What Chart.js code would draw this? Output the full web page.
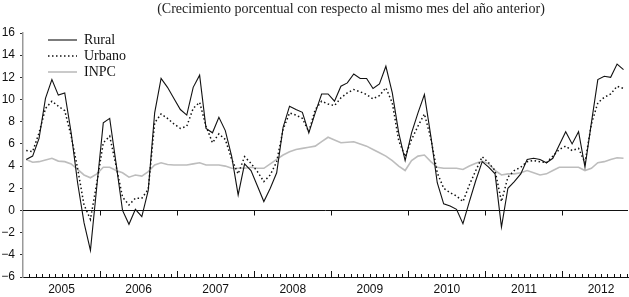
<!DOCTYPE html>
<html lang="es">
<head>
<meta charset="UTF-8" />
<title>Crecimiento porcentual</title>
<script src="https://cdn.jsdelivr.net/npm/chart.js"></script>
<style>
  html, body { margin: 0; padding: 0; background: #fff; }
</style>
</head>
<body>
<canvas id="chart" width="629" height="297"></canvas>
<script>
// Serie mensual, enero 2005 - octubre 2012
const titleText = "(Crecimiento porcentual con respecto al mismo mes del año anterior)";
const years = ["2005", "2006", "2007", "2008", "2009", "2010", "2011", "2012"];
const yTicks = [-6, -4, -2, 0, 2, 4, 6, 8, 10, 12, 14, 16];

const rural = [
  4.6, 4.9, 6.5, 10.1, 11.8, 10.4, 10.6, 7.0, 2.5, -1.1, -3.6, 2.2,
  7.9, 8.3, 4.2, 0.0, -1.25, 0.1, -0.55, 1.8, 8.8, 11.9, 11.1, 10.1,
  9.1, 8.6, 11.1, 12.2, 7.4, 7.0, 8.4, 7.2, 4.85, 1.4, 4.2, 3.6,
  2.2, 0.8, 2.0, 3.4, 7.5, 9.4, 9.1, 8.85, 7.0, 8.8, 10.5, 10.5,
  9.85, 11.2, 11.5, 12.3, 11.9, 11.9, 11.0, 11.4, 13.0, 10.6, 7.0, 4.5,
  7.0, 8.8, 10.45, 6.7, 2.5, 0.6, 0.4, 0.1, -1.2, 0.8, 2.7, 4.4,
  3.9, 3.3, -1.5, 2.0, 2.6, 3.3, 4.6, 4.7, 4.6, 4.3, 4.7, 5.9,
  7.1, 6.0, 7.1, 3.9, 7.9, 11.8, 12.1, 12.0, 13.2, 12.7
];
const urbano = [
  5.4, 5.3, 7.0, 9.2, 9.85, 9.4, 9.0, 6.7, 3.8, 0.5, -0.8, 2.5,
  6.1, 6.7, 4.0, 1.2, 0.5, 1.1, 1.1, 1.9, 7.9, 8.7, 8.3, 7.8,
  7.4, 7.6, 9.2, 9.75, 7.6, 6.1, 6.9, 6.4, 4.6, 3.3, 4.85, 4.25,
  3.5, 2.6, 3.2, 4.4, 7.3, 8.8, 8.6, 8.3, 7.1, 9.1, 9.85, 9.6,
  9.45, 10.15, 10.6, 10.9, 10.7, 10.45, 10.06, 10.36, 11.06, 9.7, 6.3, 4.85,
  6.4, 7.6, 8.7, 6.5, 3.4, 2.0, 1.6, 1.3, 0.8, 2.3, 3.6, 4.85,
  4.3, 3.6, 0.8, 3.0, 3.6, 3.9, 4.4, 4.5, 4.4, 4.3, 4.9, 5.5,
  5.8, 5.4, 5.6, 4.3, 7.8, 9.7, 10.2, 10.5, 11.2, 11.0
];
const inpc = [
  4.6, 4.35, 4.4, 4.55, 4.7, 4.45, 4.4, 4.2, 3.7, 3.2, 2.95, 3.3,
  3.9, 3.9, 3.6, 3.4, 3.0, 3.2, 3.1, 3.5, 4.1, 4.3, 4.15, 4.1,
  4.1, 4.1, 4.2, 4.3, 4.1, 4.1, 4.1, 4.0, 3.8, 3.8, 3.8, 3.9,
  3.8, 3.8, 4.2, 4.6, 5.0, 5.3, 5.5, 5.6, 5.7, 5.8, 6.2, 6.6,
  6.35, 6.1, 6.15, 6.2, 6.0, 5.8, 5.5, 5.2, 4.9, 4.5, 4.0, 3.6,
  4.5, 4.9, 5.0, 4.4, 3.9, 3.8, 3.8, 3.8, 3.7, 4.0, 4.25, 4.45,
  4.2, 3.6, 3.2, 3.3, 3.3, 3.4, 3.6, 3.4, 3.2, 3.3, 3.6, 3.9,
  3.9, 3.9, 3.9, 3.6, 3.8, 4.3, 4.4, 4.6, 4.75, 4.7
];

// cada mes en el centro de su intervalo
const toPoints = arr => arr.map((v, i) => ({ x: i + 0.5, y: v }));
const nMonths = rural.length;

// linea del cero y marcas de meses/años
const axisMarks = {
  id: "axisMarks",
  beforeDatasetsDraw(chart) {
    const { ctx, chartArea, scales } = chart;
    const x = scales.x, y = scales.y;
    const y0 = Math.round(y.getPixelForValue(0)) + 0.5;
    ctx.save();
    ctx.strokeStyle = "#111";
    ctx.lineWidth = 1;
    ctx.beginPath();
    ctx.moveTo(chartArea.left, y0);
    ctx.lineTo(chartArea.right, y0);
    for (let m = 12; m < nMonths; m += 12) {
      const px = Math.round(x.getPixelForValue(m)) + 0.5;
      ctx.moveTo(px, y0);
      ctx.lineTo(px, y0 + 5);
    }
    ctx.stroke();
    ctx.restore();
  },
  afterDraw(chart) {
    const { ctx, chartArea, scales } = chart;
    const x = scales.x;
    const yb = chartArea.bottom;
    ctx.save();
    ctx.strokeStyle = "#111";
    ctx.lineWidth = 1;
    ctx.beginPath();
    for (let m = 1; m <= nMonths; m++) {
      const px = Math.round(x.getPixelForValue(m)) + 0.5;
      ctx.moveTo(px, yb);
      ctx.lineTo(px, yb - (m % 12 === 0 ? 6 : 3));
    }
    ctx.stroke();
    // titulo
    ctx.font = "14px 'Liberation Serif'";
    ctx.fillStyle = "#222";
    ctx.textAlign = "center";
    ctx.textBaseline = "middle";
    ctx.fillText(titleText, 351, 9);
    ctx.restore();
  }
};

// leyenda dentro del area del grafico
const insideLegend = {
  id: "insideLegend",
  afterDraw(chart) {
    const { ctx } = chart;
    ctx.save();
    ctx.font = "14px 'Liberation Serif'";
    ctx.textBaseline = "middle";
    ctx.fillStyle = "#111";
    chart.data.datasets.forEach((ds, k) => {
      const ly = 40 + k * 16;
      ctx.beginPath();
      ctx.strokeStyle = ds.borderColor;
      ctx.lineWidth = ds.borderWidth;
      ctx.setLineDash(ds.borderDash || []);
      ctx.moveTo(48, ly);
      ctx.lineTo(77, ly);
      ctx.stroke();
      ctx.setLineDash([]);
      ctx.fillText(ds.label, 84, ly);
    });
    ctx.restore();
  }
};

new Chart(document.getElementById("chart"), {
  type: "line",
  data: {
    datasets: [
      { label: "Rural", data: toPoints(rural), borderColor: "#111", borderWidth: 1.1 },
      { label: "Urbano", data: toPoints(urbano), borderColor: "#111", borderWidth: 1.5, borderDash: [1.5, 2.5] },
      { label: "INPC", data: toPoints(inpc), borderColor: "#bdbdbd", borderWidth: 1.6 }
    ]
  },
  options: {
    responsive: false,
    animation: false,
    layout: { padding: { left: 0, right: 1, top: 33, bottom: 0 } },
    elements: { point: { radius: 0 }, line: { tension: 0 } },
    plugins: {
      legend: { display: false },
      tooltip: { enabled: false },
      title: { display: false }
    },
    scales: {
      x: {
        type: "linear",
        min: 0,
        max: 94.2,
        afterBuildTicks: s => { s.ticks = years.map((_, k) => ({ value: k * 12 + 6 })); },
        afterFit: s => { s.height = 20; },
        ticks: {
          autoSkip: false,
          maxRotation: 0,
          padding: 5,
          color: "#111",
          font: { family: "'Liberation Sans'", size: 12 },
          callback: (v, i) => years[i]
        },
        grid: { display: false, drawTicks: false },
        border: { display: true, color: "#111", width: 1 }
      },
      y: {
        min: -6,
        max: 16,
        afterBuildTicks: s => { s.ticks = yTicks.map(v => ({ value: v })); },
        afterFit: s => { s.width = 23; },
        ticks: {
          padding: 5,
          color: "#111",
          font: { family: "'Liberation Sans'", size: 12 },
          callback: v => (v < 0 ? "\u2212" + (-v) : String(v))
        },
        grid: { drawOnChartArea: false, drawTicks: true, tickLength: 3, tickColor: "#333" },
        border: { display: true, color: "#999", width: 1.5 }
      }
    }
  },
  plugins: [axisMarks, insideLegend]
});
</script>
</body>
</html>
